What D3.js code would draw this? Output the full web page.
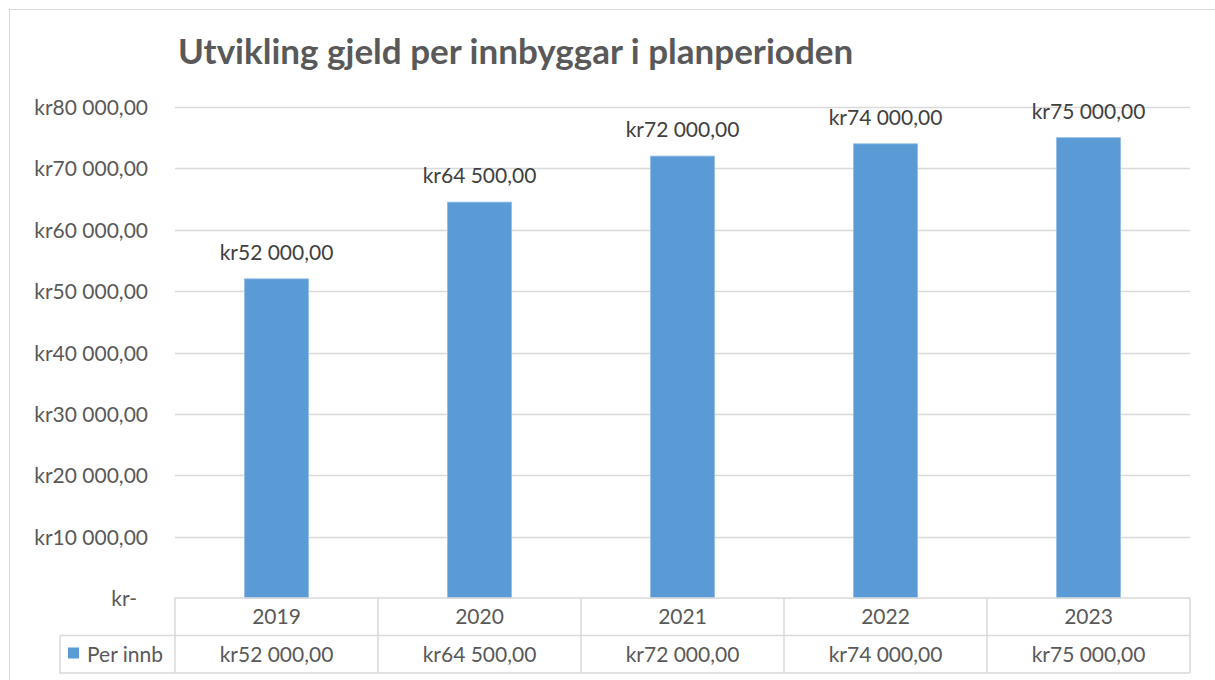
<!DOCTYPE html>
<html>
<head>
<meta charset="utf-8">
<script src="https://cdn.jsdelivr.net/npm/d3@7"></script>
<style>
  body { margin: 0; background: #fff; }
  text { font-family: Lato, "Open Sans", sans-serif; }
</style>
</head>
<body>
<div class="content"></div>
<script>
var years = ["2019", "2020", "2021", "2022", "2023"];
var values = [52000, 64500, 72000, 74000, 75000];
var yTicks = [0, 10000, 20000, 30000, 40000, 50000, 60000, 70000, 80000];
var seriesName = "Per innb";
var title = "Utvikling gjeld per innbyggar i planperioden";

var width = 1215, height = 680;
var plot = {left: 175, right: 1190, top: 107, bottom: 598};
var rowH = 37.5;
var fs = 21;
var barColor = "#5b9bd5";
var textColor = "#595959";
var gridColor = "#d9d9d9";

// kr52 000,00 style
function kr(v) {
	if (v === 0) return "kr-";
	var s = d3.format(",.2f")(v);
	return "kr" + s.replace(/,/g, " ").replace(".", ",");
}

var svg = d3.select(".content").append("svg")
	.attr("width", width)
	.attr("height", height);

// chart frame
svg.append("rect")
	.attr("x", 9.5).attr("y", 9.5)
	.attr("width", width + 10).attr("height", height + 10)
	.attr("fill", "none").attr("stroke", gridColor);

svg.append("text")
	.attr("x", 178).attr("y", 64)
	.attr("font-size", 35).attr("font-weight", "bold")
	.attr("fill", textColor)
	.text(title);

var x = d3.scaleBand().domain(years).range([plot.left, plot.right]).paddingInner(0).paddingOuter(0);
var y = d3.scaleLinear().domain([0, 80000]).range([plot.bottom, plot.top]);

// gridlines
svg.append("g").selectAll("line")
	.data(yTicks.filter(d => d > 0))
	.enter().append("line")
	.attr("x1", plot.left).attr("x2", plot.right)
	.attr("y1", d => Math.round(y(d)) + 0.5).attr("y2", d => Math.round(y(d)) + 0.5)
	.attr("stroke", gridColor).attr("stroke-width", 1.5);

// y labels
svg.append("g").selectAll("text")
	.data(yTicks)
	.enter().append("text")
	.attr("x", d => d === 0 ? 137 : 148)
	.attr("y", d => y(d) + 8)
	.attr("text-anchor", "end")
	.attr("font-size", fs)
	.attr("fill", textColor)
	.text(kr);

// bars
var barW = x.bandwidth() * 0.315;
svg.append("g").selectAll("rect")
	.data(values)
	.enter().append("rect")
	.attr("x", (d, i) => x(years[i]) + x.bandwidth() / 2 - barW / 2)
	.attr("y", d => y(d))
	.attr("width", barW)
	.attr("height", d => y(0) - y(d))
	.attr("fill", barColor)
	.attr("stroke", "#8fbbe6").attr("stroke-width", 0.8);

// data labels
svg.append("g").selectAll("text")
	.data(values)
	.enter().append("text")
	.attr("x", (d, i) => x(years[i]) + x.bandwidth() / 2)
	.attr("y", d => y(d) - 19)
	.attr("text-anchor", "middle")
	.attr("font-size", fs)
	.attr("fill", "#404040")
	.text(kr);

// data table
var table = svg.append("g").attr("fill", "none").attr("stroke", gridColor).attr("stroke-width", 1.5);
table.append("path")
	.attr("d", "M" + plot.left + "," + (plot.bottom + 2 * rowH) + "V" + plot.bottom + "H" + plot.right + "V" + (plot.bottom + 2 * rowH)
		+ "M60," + (plot.bottom + rowH) + "H" + plot.right
		+ "M60," + (plot.bottom + rowH) + "V" + (plot.bottom + 2 * rowH) + "H" + plot.right);
table.selectAll("line")
	.data(years.slice(1))
	.enter().append("line")
	.attr("x1", d => x(d)).attr("x2", d => x(d))
	.attr("y1", plot.bottom).attr("y2", plot.bottom + 2 * rowH);

svg.append("g").selectAll("text")
	.data(years)
	.enter().append("text")
	.attr("x", d => x(d) + x.bandwidth() / 2)
	.attr("y", plot.bottom + 26)
	.attr("text-anchor", "middle")
	.attr("font-size", fs)
	.attr("fill", textColor)
	.text(d => d);

svg.append("g").selectAll("text")
	.data(values)
	.enter().append("text")
	.attr("x", (d, i) => x(years[i]) + x.bandwidth() / 2)
	.attr("y", plot.bottom + rowH + 26)
	.attr("text-anchor", "middle")
	.attr("font-size", fs)
	.attr("fill", textColor)
	.text(kr);

// legend key
svg.append("rect")
	.attr("x", 68).attr("y", plot.bottom + rowH + 12)
	.attr("width", 11).attr("height", 11)
	.attr("fill", barColor);
svg.append("text")
	.attr("x", 87).attr("y", plot.bottom + rowH + 26)
	.attr("font-size", fs)
	.attr("fill", textColor)
	.text(seriesName);
</script>
</body>
</html>
